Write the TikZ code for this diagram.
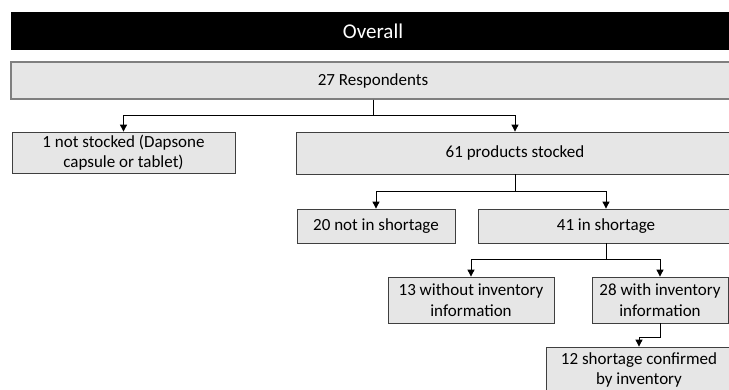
\documentclass[tikz,border=0pt]{standalone}
\usepackage{fontspec}
\setmainfont{Carlito}
\usepackage{xcolor}
\usetikzlibrary{arrows.meta}
\definecolor{cFILL}{HTML}{E6E6E6}
\definecolor{cEDGE}{HTML}{3F3F3F}
\definecolor{cHEAD}{HTML}{7F7F7F}
\tikzset{
  flowbox/.style={
    draw=cEDGE, line width=0.8pt,
    fill=cFILL,
    text=black,
    align=center,
    inner sep=0pt,
    font=\fontsize{17pt}{20.5pt}\selectfont
  },
  headbox/.style={
    flowbox,
    draw=cHEAD,
    line width=1.3pt
  },
  titlebar/.style={
    fill=black,
    text=white,
    inner sep=0pt,
    font=\fontsize{21pt}{24pt}\selectfont
  },
  link/.style={
    -{Triangle[length=7pt,width=7pt]},
    line width=0.9pt,
    draw=black
  }
}

\begin{document}
\begin{tikzpicture}[x=1pt, y=-1pt]
  \useasboundingbox (0,0) rectangle (729,390);
  \clip (0,0) rectangle (729,390);

  % boxes that run past the right edge are cut by the clip
  \node[titlebar, minimum width=724pt, minimum height=38pt] (title) at (373,31) {Overall};
  \node[headbox, minimum width=724pt, minimum height=37pt] (resp) at (373,80.5) {27 Respondents};

  \node[flowbox, minimum width=223pt, minimum height=41pt] (notstk) at (123.5,152.5) {1 not stocked (Dapsone\\capsule or tablet)};
  \node[flowbox, minimum width=438pt, minimum height=42pt] (stocked) at (515,153) {61 products stocked};

  \node[flowbox, minimum width=158pt, minimum height=34pt] (noshort) at (376,226) {20 not in shortage};
  \node[flowbox, minimum width=256pt, minimum height=34pt] (short) at (606,226) {41 in shortage};

  \node[flowbox, minimum width=166pt, minimum height=46pt] (noinv) at (471,300) {13 without inventory\\information};
  \node[flowbox, minimum width=136pt, minimum height=46pt] (withinv) at (660,300) {28 with inventory\\information};

  \node[flowbox, minimum width=186pt, minimum height=46pt] (confirmed) at (639,370) {12 shortage confirmed\\by inventory};

  \draw[link] (resp.south) -- ++(0,16) -| (notstk.north);
  \draw[link] (resp.south) -- ++(0,16) -| (stocked.north);
  \draw[link] (stocked.south) -- ++(0,17) -| (noshort.north);
  \draw[link] (stocked.south) -- ++(0,17) -| (short.north);
  \draw[link] (short.south) -- ++(0,16) -| (noinv.north);
  \draw[link] (short.south) -- ++(0,16) -| (withinv.north);
  \draw[link] (withinv.south) -- ++(0,14) -| (confirmed.north);
\end{tikzpicture}
\end{document}
